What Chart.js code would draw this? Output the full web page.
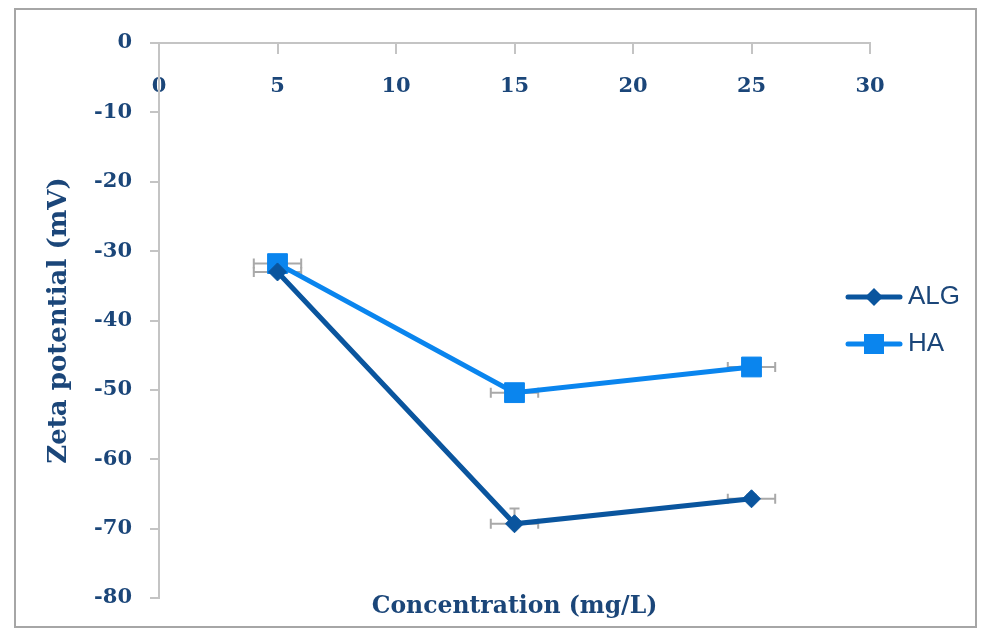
<!DOCTYPE html>
<html>
<head>
<meta charset="utf-8">
<script src="https://cdn.jsdelivr.net/npm/chart.js@4.4.0/dist/chart.umd.min.js"></script>
<style>
  html, body { margin: 0; padding: 0; background: #fff; }
  #wrap { width: 984px; height: 629px; }
</style>
</head>
<body>
<div id="wrap"><canvas id="zeta-chart" width="984" height="629"></canvas></div>
<script>
// values
const concentrations = [5, 15, 25];
const algZeta = [-33.0, -69.3, -65.7];
const haZeta = [-31.8, -50.4, -46.7];
const algConcErr = [1, 1, 1];
const haConcErr = [1, 1, 1];
const algZetaErr = [0.6, 2.2, 0.6];
const haZetaErr = [0.6, 0.6, 0.6];
const xTicks = [0, 5, 10, 15, 20, 25, 30];
const yTicks = [0, -10, -20, -30, -40, -50, -60, -70, -80];

const navy = "#1B4679";
const axisGrey = "#C4C4C4";
const algColor = "#0A559E";
const haColor = "#0A85EE";
const serif = "'DejaVu Serif', serif";

const toPoints = (xs, ys) => xs.map((x, i) => ({ x: x, y: ys[i] }));

// little line+marker icons for the legend, Excel style
function legendIcon(color, shape) {
  const c = document.createElement("canvas");
  c.width = 58;
  c.height = 26;
  const g = c.getContext("2d");
  g.strokeStyle = color;
  g.fillStyle = color;
  g.lineWidth = 5;
  g.lineCap = "round";
  g.beginPath();
  g.moveTo(3, 13);
  g.lineTo(55, 13);
  g.stroke();
  g.beginPath();
  if (shape === "diamond") {
    g.moveTo(29, 4); g.lineTo(38, 13); g.lineTo(29, 22); g.lineTo(20, 13);
  } else {
    g.rect(19, 3, 20, 20);
  }
  g.fill();
  return c;
}

const errorBars = {
  id: "errorBars",
  beforeDatasetsDraw(chart) {
    const { ctx, scales: { x, y } } = chart;
    ctx.save();
    ctx.strokeStyle = "#A9A9A9";
    ctx.lineWidth = 2;
    chart.data.datasets.forEach(ds => {
      ds.data.forEach((p, i) => {
        const px = x.getPixelForValue(p.x);
        const py = y.getPixelForValue(p.y);
        const x0 = x.getPixelForValue(p.x - ds.xErr[i]);
        const x1 = x.getPixelForValue(p.x + ds.xErr[i]);
        const yTop = y.getPixelForValue(p.y + ds.yErr[i]);
        ctx.beginPath();
        ctx.moveTo(x0, py); ctx.lineTo(x1, py);
        ctx.moveTo(x0, py - 5); ctx.lineTo(x0, py + 5);
        ctx.moveTo(x1, py - 5); ctx.lineTo(x1, py + 5);
        ctx.moveTo(px, py); ctx.lineTo(px, yTop);
        ctx.moveTo(px - 5, yTop); ctx.lineTo(px + 5, yTop);
        ctx.stroke();
      });
    });
    ctx.restore();
  },
};

const frame = {
  id: "frame",
  beforeDraw(chart) {
    const ctx = chart.ctx;
    ctx.save();
    ctx.fillStyle = "#fff";
    ctx.fillRect(0, 0, chart.width, chart.height);
    ctx.strokeStyle = "#A6A6A6";
    ctx.lineWidth = 2;
    ctx.strokeRect(15, 9, 961, 618);
    ctx.restore();
  },
};

// legend sits inside the plot area on the right
const legendPlacement = {
  id: "legendPlacement",
  afterLayout(chart) {
    const lg = chart.legend;
    const area = chart.chartArea;
    lg.left = 832;
    lg.right = 980;
    lg.width = lg.right - lg.left;
    lg.top = area.top;
    lg.bottom = area.bottom;
    lg.height = lg.bottom - lg.top;
  },
};

const config = {
  type: "line",
  data: {
    datasets: [
      {
        label: "ALG",
        data: toPoints(concentrations, algZeta),
        xErr: algConcErr,
        yErr: algZetaErr,
        borderColor: algColor,
        backgroundColor: algColor,
        borderWidth: 5,
        pointStyle: "rectRot",
        pointRadius: 9,
        pointBorderWidth: 1,
        tension: 0,
      },
      {
        label: "HA",
        data: toPoints(concentrations, haZeta),
        xErr: haConcErr,
        yErr: haZetaErr,
        borderColor: haColor,
        backgroundColor: haColor,
        borderWidth: 5,
        pointStyle: "rect",
        pointRadius: 14,
        pointBorderWidth: 1,
        tension: 0,
      },
    ],
  },
  options: {
    responsive: false,
    animation: false,
    devicePixelRatio: 1,
    layout: {
      padding: { left: 40, right: 114, top: 43, bottom: 4 },
    },
    plugins: {
      legend: {
        position: "chartArea",
        align: "center",
        labels: {
          usePointStyle: true,
          pointStyleWidth: 42,
          padding: 21,
          color: navy,
          font: { family: "'Liberation Sans', Arial, sans-serif", size: 26 },
          generateLabels: chart => chart.data.datasets.map((ds, i) => ({
            text: ds.label,
            pointStyle: legendIcon(ds.borderColor, i === 0 ? "diamond" : "square"),
            fontColor: navy,
            lineWidth: 0,
            hidden: false,
            datasetIndex: i,
          })),
        },
      },
      tooltip: { enabled: false },
    },
    scales: {
      x: {
        type: "linear",
        position: { y: 0 },
        min: xTicks[0],
        max: xTicks[xTicks.length - 1],
        ticks: {
          stepSize: xTicks[1] - xTicks[0],
          color: navy,
          padding: 21,
          font: { family: serif, size: 21, weight: "bold" },
        },
        grid: {
          drawOnChartArea: false,
          drawTicks: true,
          tickLength: 10,
          color: axisGrey,
          lineWidth: 2,
        },
        border: { display: true, color: axisGrey, width: 2 },
      },
      x2: {
        type: "linear",
        position: "bottom",
        min: xTicks[0],
        max: xTicks[xTicks.length - 1],
        ticks: { display: false },
        grid: { display: false },
        border: { display: false },
        title: {
          display: true,
          text: "Concentration (mg/L)",
          color: navy,
          font: { family: serif, size: 23.5, weight: "bold" },
          padding: { top: 4, bottom: 4 },
        },
        afterFit: scale => { scale.height = 27; },
      },
      y: {
        type: "linear",
        position: "left",
        min: yTicks[yTicks.length - 1],
        max: yTicks[0],
        ticks: {
          stepSize: yTicks[0] - yTicks[1],
          color: navy,
          padding: 18,
          font: { family: serif, size: 21, weight: "bold" },
        },
        grid: {
          drawOnChartArea: false,
          drawTicks: true,
          tickLength: 9,
          color: axisGrey,
          lineWidth: 2,
        },
        border: { display: true, color: axisGrey, width: 2 },
        title: {
          display: true,
          text: "Zeta potential (mV)",
          color: navy,
          font: { family: serif, size: 26, weight: "bold" },
          padding: { top: 4, bottom: 4 },
        },
        afterFit: scale => { scale.width = 119; },
      },
    },
  },
  plugins: [frame, errorBars, legendPlacement],
};

new Chart(document.getElementById("zeta-chart"), config);
</script>
</body>
</html>
